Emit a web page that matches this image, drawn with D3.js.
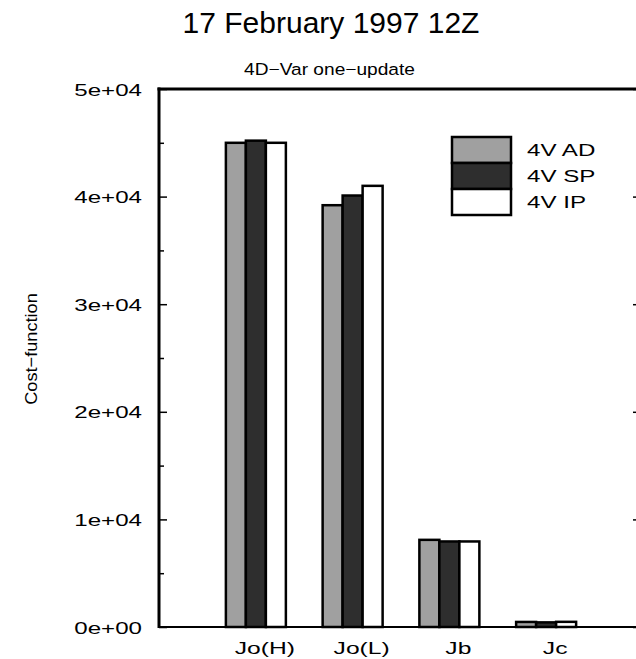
<!DOCTYPE html>
<html>
<head>
<meta charset="utf-8">
<script src="https://cdn.jsdelivr.net/npm/d3@7"></script>
<style>
  html, body { margin: 0; padding: 0; background: #fff; }
  svg { display: block; font-family: "Liberation Sans", Arial, Helvetica, sans-serif; }
</style>
</head>
<body>
<svg id="chart" width="636" height="659"></svg>
<script>
// Cost-function components for each 4D-Var configuration
const categories = ["Jo(H)", "Jo(L)", "Jb", "Jc"];
const seriesNames = ["4V AD", "4V SP", "4V IP"];
const seriesColors = ["#a0a0a0", "#2e2e2e", "#ffffff"];
const valuesAD = [45000, 39200, 8100, 470];
const valuesSP = [45200, 40100, 7950, 430];
const valuesIP = [45000, 41000, 7950, 480];
const majorTicks = [0, 10000, 20000, 30000, 40000, 50000];
const majorTickLabels = ["0e+00", "1e+04", "2e+04", "3e+04", "4e+04", "5e+04"];
const minorTicks = [5000, 15000, 25000, 35000, 45000];

const seriesValues = [valuesAD, valuesSP, valuesIP];
const rows = categories.map((c, i) => ({
  category: c,
  bars: seriesNames.map((s, j) => ({ series: s, color: seriesColors[j], value: seriesValues[j][i] }))
}));

const svg = d3.select("#chart");
const plotLeft = 159, plotRight = 638, plotTop = 89, plotBottom = 627;

const y = d3.scaleLinear().domain([0, 50000]).range([plotBottom, plotTop]);
const x = d3.scaleBand().domain(categories).range([207.5, 594.5])
  .paddingInner(0.38).paddingOuter(0.19);
const xs = d3.scaleBand().domain(seriesNames).range([0, x.bandwidth()]);

// Titles
svg.append("text").attr("x", 331).attr("y", 33).attr("text-anchor", "middle")
  .attr("font-size", 30).attr("fill", "#000").text("17 February 1997 12Z");
svg.append("text").attr("transform", "translate(329.5,75) scale(1.16,1)")
  .attr("text-anchor", "middle").attr("font-size", 16.5).attr("fill", "#000")
  .text("4D\u2212Var one\u2212update");
svg.append("text").attr("transform", "translate(37,349) rotate(-90) scale(1.07,1)")
  .attr("text-anchor", "middle").attr("font-size", 17).attr("fill", "#000")
  .text("Cost\u2212function");

// Bars
const groups = svg.append("g").selectAll("g").data(rows).join("g")
  .attr("transform", d => `translate(${x(d.category)},0)`);
groups.selectAll("rect").data(d => d.bars).join("rect")
  .attr("x", d => xs(d.series))
  .attr("width", xs.bandwidth())
  .attr("y", d => y(d.value))
  .attr("height", d => y(0) - y(d.value))
  .attr("fill", d => d.color)
  .attr("stroke", "#000")
  .attr("stroke-width", 2.5);

// Left axis: major ticks with labels, inward ticks
const yAxis = svg.append("g").attr("transform", `translate(${plotLeft},0)`)
  .call(d3.axisLeft(y).tickValues(majorTicks)
    .tickFormat((d, i) => majorTickLabels[i])
    .tickSizeInner(-8).tickSizeOuter(0).tickPadding(17));
yAxis.select(".domain").remove();
yAxis.selectAll(".tick line").attr("stroke", "#000").attr("stroke-width", 1.5);
yAxis.selectAll(".tick text")
  .attr("x", 0).attr("dy", "0.36em")
  .attr("transform", "translate(-17,0) scale(1.42,1)")
  .attr("font-size", 17).attr("font-family", null).attr("fill", "#000");

// Left axis minor ticks
const yMinor = svg.append("g").attr("transform", `translate(${plotLeft},0)`)
  .call(d3.axisLeft(y).tickValues(minorTicks).tickFormat("")
    .tickSizeInner(-5).tickSizeOuter(0));
yMinor.select(".domain").remove();
yMinor.selectAll(".tick line").attr("stroke", "#000").attr("stroke-width", 1.5);

// Right axis ticks (frame edge)
const yRight = svg.append("g").attr("transform", `translate(${plotRight},0)`)
  .call(d3.axisRight(y).tickValues(majorTicks).tickFormat("")
    .tickSizeInner(-5).tickSizeOuter(0));
yRight.select(".domain").remove();
yRight.selectAll(".tick line").attr("stroke", "#000").attr("stroke-width", 1.5);

// Bottom axis labels
const xAxis = svg.append("g").attr("transform", `translate(0,${plotBottom})`)
  .call(d3.axisBottom(x).tickSize(0).tickPadding(15));
xAxis.select(".domain").remove();
xAxis.selectAll(".tick text")
  .attr("y", 0).attr("transform", "translate(9,15) scale(1.45,1)")
  .attr("font-size", 17).attr("font-family", null).attr("fill", "#000");

// Frame
svg.append("line").attr("x1", plotLeft).attr("x2", plotLeft).attr("y1", plotTop - 1.5).attr("y2", plotBottom + 1)
  .attr("stroke", "#000").attr("stroke-width", 3);
svg.append("line").attr("x1", plotLeft - 1.5).attr("x2", plotRight).attr("y1", plotTop).attr("y2", plotTop)
  .attr("stroke", "#000").attr("stroke-width", 3);
svg.append("line").attr("x1", plotLeft).attr("x2", plotRight).attr("y1", plotBottom).attr("y2", plotBottom)
  .attr("stroke", "#000").attr("stroke-width", 2);

// Legend
const legend = svg.append("g").attr("transform", "translate(452,137)");
const lg = legend.selectAll("g").data(seriesNames).join("g")
  .attr("transform", (d, i) => `translate(0,${i * 26})`);
lg.append("rect").attr("width", 59).attr("height", 26)
  .attr("fill", (d, i) => seriesColors[i]).attr("stroke", "#000").attr("stroke-width", 2.5);
lg.append("text").attr("transform", "translate(75,19) scale(1.42,1)")
  .attr("font-size", 17).attr("fill", "#000").text(d => d);
</script>
</body>
</html>
